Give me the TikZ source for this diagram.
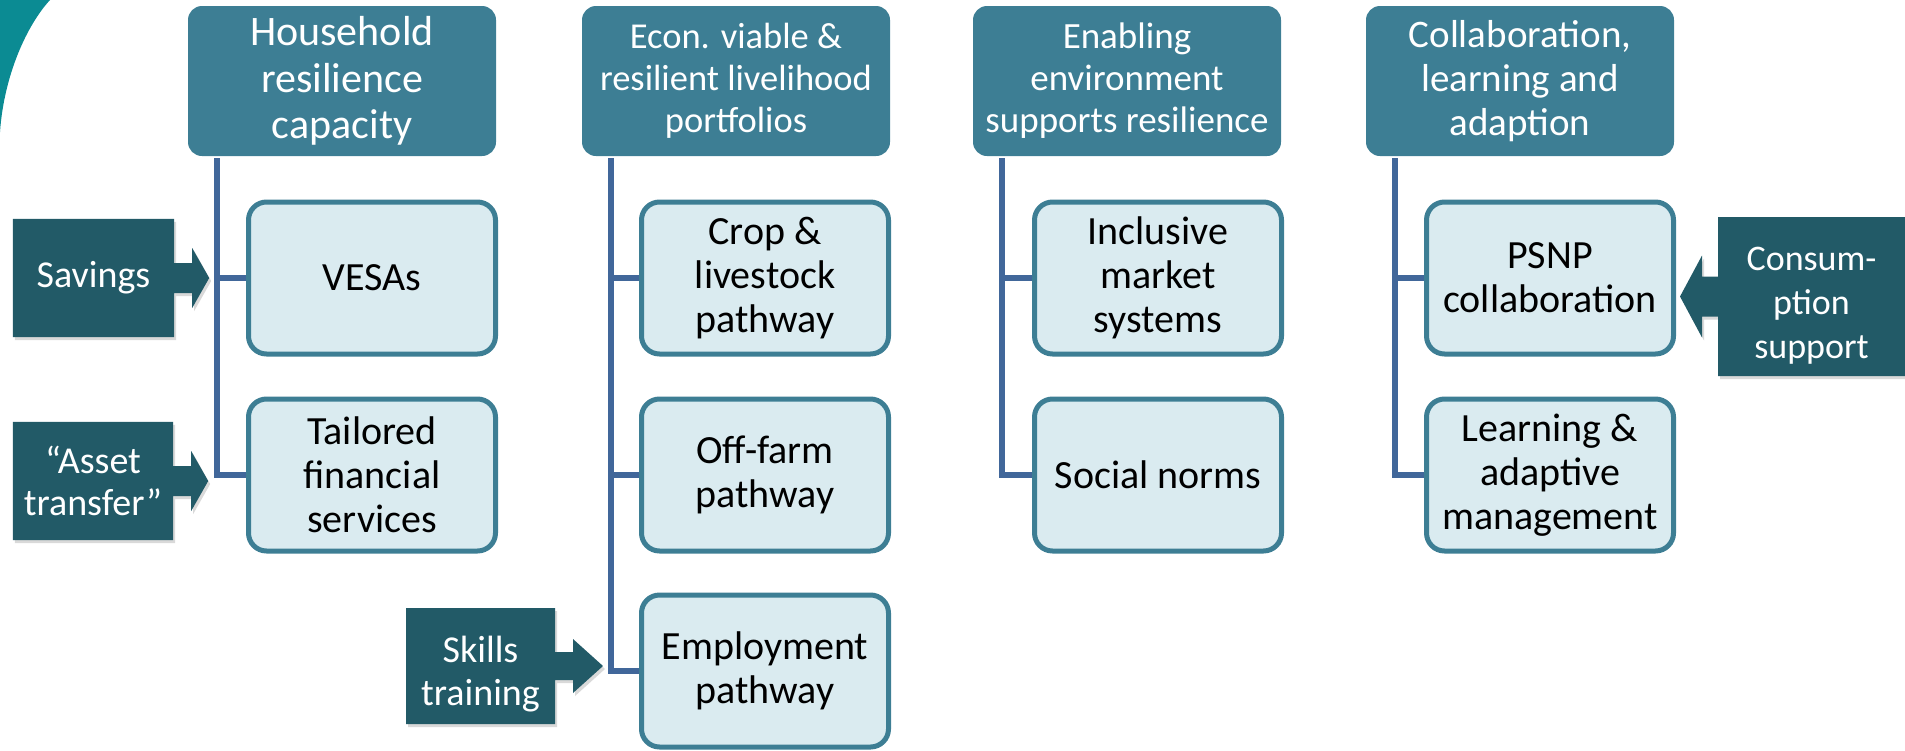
\documentclass[tikz,border=0pt]{standalone}
\usepackage{fontspec}
\setmainfont{Carlito}
\usetikzlibrary{calc,backgrounds,shadows}
\definecolor{hdr}{HTML}{3D7E94}
\definecolor{kidfill}{HTML}{DAEBF0}
\definecolor{kidline}{HTML}{3D7E94}
\definecolor{indark}{HTML}{225A67}
\definecolor{conn}{HTML}{41679A}
\definecolor{swoosh}{HTML}{0B8B93}
\tikzset{
  hdrbox/.style={fill=hdr, rounded corners=14pt, minimum width=308pt, minimum height=150pt,
    text=white, align=center, inner sep=2pt},
  kidbox/.style={fill=kidfill, draw=kidline, line width=5pt, rounded corners=18pt,
    minimum width=247pt, minimum height=152pt, align=center, inner sep=2pt,
    font=\fontsize{40}{44}\selectfont},
  inbody/.style={text=white, align=center, inner sep=0pt, font=\fontsize{38}{42.5}\selectfont},
  inshape/.style={fill=indark, drop shadow={opacity=0.3, shadow xshift=2pt, shadow yshift=-3pt}},
  connline/.style={draw=conn, line width=5.5pt},
}
\begin{document}
\begin{tikzpicture}[x=1pt,y=-1pt]
\useasboundingbox (0,0) rectangle (1905,750);
% decorative swoosh
\fill[swoosh] (0,0) -- (50,0) .. controls (27,25) and (4,75) .. (0,132) -- cycle;

% headers
\node[hdrbox, font=\fontsize{42}{46.5}\selectfont] (h1) at (342,81) {Household\\resilience\\capacity};
\node[hdrbox, font=\fontsize{36.5}{42}\selectfont] (h2) at (736,81) {Econ. viable \&\\resilient livelihood\\portfolios};
\node[hdrbox, font=\fontsize{37}{42}\selectfont] (h3) at (1127,81) {Enabling\\environment\\supports resilience};
\node[hdrbox, font=\fontsize{39}{44}\selectfont] (h4) at (1520,81) {Collaboration,\\learning and\\adaption};

% children
\node[kidbox] (c11) at (372,278) {VESAs};
\node[kidbox] (c12) at (372,475) {Tailored\\financial\\services};
\node[kidbox] (c21) at (765,278) {Crop \&\\livestock\\pathway};
\node[kidbox] (c22) at (765,475) {Off-farm\\pathway};
\node[kidbox] (c23) at (765,671) {Employment\\pathway};
\node[kidbox] (c31) at (1158,278) {Inclusive\\market\\systems};
\node[kidbox] (c32) at (1158,475) {Social norms};
\node[kidbox] (c41) at (1550,278) {PSNP\\collaboration};
\node[kidbox] (c42) at (1550,475) {Learning \&\\adaptive\\management};

% inputs
\node[inbody, minimum width=161pt, minimum height=118pt] (sav) at (93.5,278) {Savings};
\node[inbody, minimum width=160pt, minimum height=118pt] (ast) at (93,481) {“Asset\\transfer”};
\coordinate (sklc) at (480.5,666);
\node[inbody] (skl) at (480.5,674) {Skills\\training};
\coordinate (conc) at (1811.5,296.5);
\node[inbody, font=\fontsize{36}{44}\selectfont] (con) at (1811.5,306) {Consum-\\ption\\support};

\begin{pgfonlayer}{background}
  % connectors
  \draw[connline] ([xshift=-125pt,yshift=-2pt]h1.south) |- (c11.west);
  \draw[connline] ([xshift=-125pt,yshift=-2pt]h1.south) |- (c12.west);
  \draw[connline] ([xshift=-125pt,yshift=-2pt]h2.south) |- (c21.west);
  \draw[connline] ([xshift=-125pt,yshift=-2pt]h2.south) |- (c22.west);
  \draw[connline] ([xshift=-125pt,yshift=-2pt]h2.south) |- (c23.west);
  \draw[connline] ([xshift=-125pt,yshift=-2pt]h3.south) |- (c31.west);
  \draw[connline] ([xshift=-125pt,yshift=-2pt]h3.south) |- (c32.west);
  \draw[connline] ([xshift=-125pt,yshift=-2pt]h4.south) |- (c41.west);
  \draw[connline] ([xshift=-125pt,yshift=-2pt]h4.south) |- (c42.west);
  % input arrow shapes
  \fill[inshape] (sav.north west) -- (sav.north east) -- ($(sav.east)+(0,-15)$) -- ++(18,0) -- ++(0,-15)
     -- ++(17,30) -- ++(-17,30) -- ++(0,-15) -- ++(-18,0) -- (sav.south east) -- (sav.south west) -- cycle;
  \fill[inshape] (ast.north west) -- (ast.north east) -- ($(ast.east)+(0,-15)$) -- ++(18,0) -- ++(0,-15)
     -- ++(17,30) -- ++(-17,30) -- ++(0,-15) -- ++(-18,0) -- (ast.south east) -- (ast.south west) -- cycle;
  \fill[inshape] ($(sklc)+(-74.5,-58)$) -- ++(149,0) -- ++(0,44) -- ++(18,0) -- ++(0,-13)
     -- ++(30,27) -- ++(-30,27) -- ++(0,-13) -- ++(-18,0) -- ++(0,44) -- ++(-149,0) -- cycle;
  \fill[inshape] ($(conc)+(-93.5,-79.5)$) -- ++(200,0) -- ++(0,159) -- ++(-200,0)
     -- ++(0,-59.5) -- ++(-16,0) -- ++(0,21) -- ++(-22,-41) -- ++(22,-41) -- ++(0,21) -- ++(16,0) -- cycle;
\end{pgfonlayer}
\end{tikzpicture}
\end{document}
